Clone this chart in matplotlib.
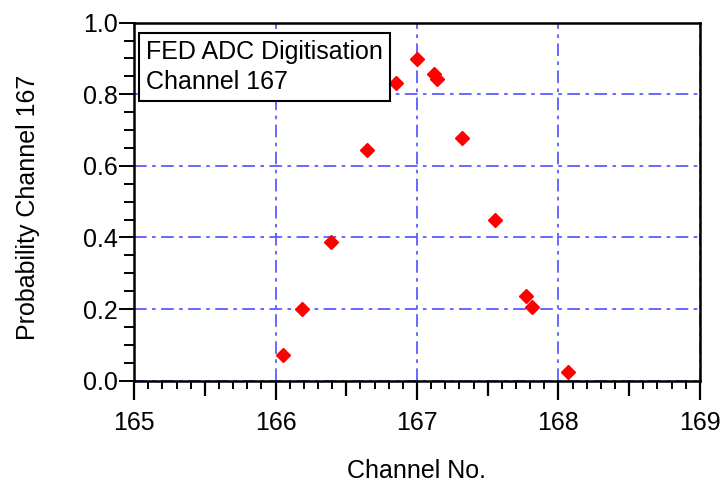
import matplotlib
matplotlib.use("Agg")
import matplotlib.pyplot as plt
from matplotlib.ticker import MultipleLocator, FixedLocator, NullFormatter

plt.rcParams['font.family'] = ['Liberation Sans', 'DejaVu Sans']

channel = [166.05, 166.19, 166.39, 166.65, 166.85, 167.00, 167.12, 167.14,
           167.32, 167.55, 167.77, 167.81, 168.07]
probability = [0.072, 0.200, 0.386, 0.644, 0.831, 0.899, 0.857, 0.842,
               0.679, 0.449, 0.237, 0.206, 0.024]

x_ticks = [165, 166, 167, 168, 169]
y_ticks = [0.0, 0.2, 0.4, 0.6, 0.8, 1.0]
x_mid_ticks = [165.5, 166.5, 167.5, 168.5]

fs = 18

fig = plt.figure(figsize=(7.23, 4.84), dpi=100)
ax = fig.add_axes([0.1855, 0.2136, 0.7825, 0.7395])

grid_color = '#5c5cff'
ax.set_xlim(165, 169)
ax.set_ylim(0, 1.0)
ax.set_xticks(x_ticks)
ax.set_yticks(y_ticks)
ax.set_yticklabels([f"{v:.1f}" for v in y_ticks])
ax.xaxis.set_minor_locator(FixedLocator([165 + i * 0.1 for i in range(41) if i % 5 != 0]))
ax.yaxis.set_minor_locator(MultipleLocator(0.05))

ax.grid(True, which='major', color=grid_color, linestyle=(0, (7, 3, 2, 3)), linewidth=1.3)
ax.set_axisbelow(True)

ax.plot(channel, probability, linestyle='none', marker='D', markersize=7.3,
        color='#ff0000', markeredgecolor='#ff0000', zorder=3)

for sp in ax.spines.values():
    sp.set_linewidth(1.8)
    sp.set_color('black')

ax.tick_params(axis='x', which='major', direction='out', length=14, width=1.6,
               labelsize=fs, pad=8, colors='black')
ax.tick_params(axis='x', which='minor', direction='out', length=6, width=1.4)
ax.tick_params(axis='y', which='major', direction='out', length=11, width=1.4,
               labelsize=fs, pad=1)
ax.tick_params(axis='y', which='minor', direction='out', length=7, width=1.4)

sec = ax.secondary_xaxis('bottom')
sec.set_xticks(x_mid_ticks)
sec.xaxis.set_major_formatter(NullFormatter())
sec.tick_params(axis='x', direction='out', length=11, width=1.6)
sec.spines['bottom'].set_visible(False)

ax.set_xlabel('Channel No.', fontsize=fs)
ax.set_ylabel('Probability Channel 167', fontsize=fs)
ax.xaxis.set_label_coords(0.5, -0.219)
ax.yaxis.set_label_coords(-0.166, 0.484)

ax.text(0.0212, 0.952, 'FED ADC Digitisation\nChannel 167', transform=ax.transAxes,
        ha='left', va='top', fontsize=fs, linespacing=1.3,
        bbox=dict(boxstyle='square,pad=0.28', facecolor='white', edgecolor='black',
                  linewidth=1.5), zorder=4)

fig.savefig('out.png', dpi=100)
